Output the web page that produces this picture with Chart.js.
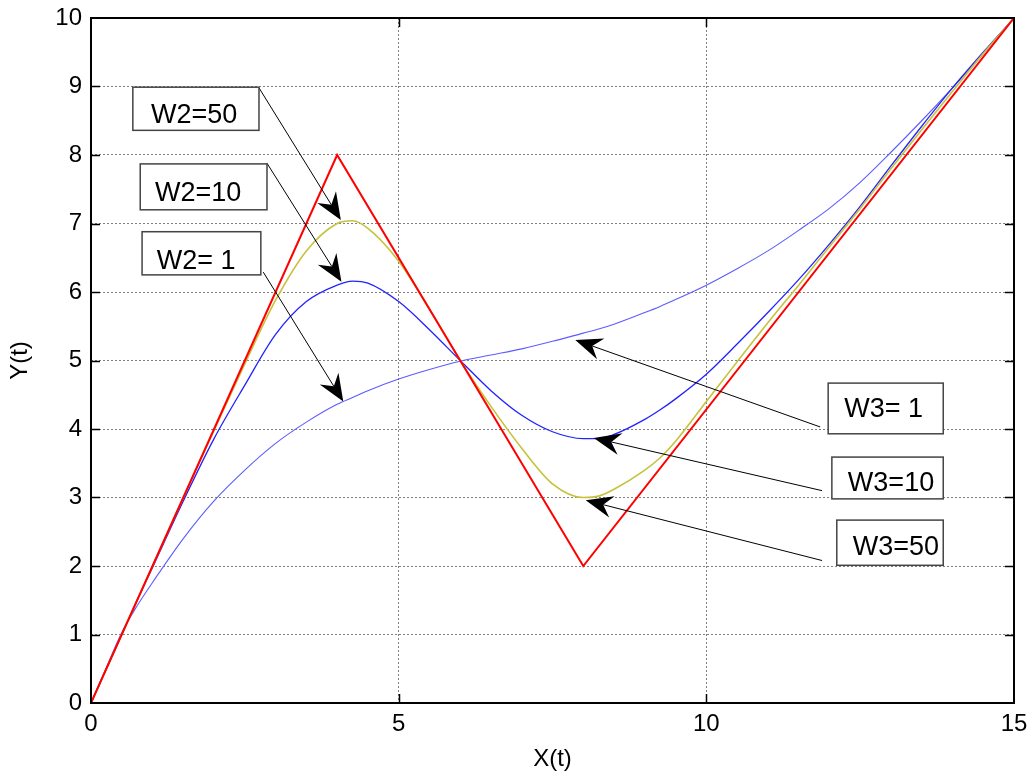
<!DOCTYPE html>
<html>
<head>
<meta charset="utf-8">
<script src="https://cdn.jsdelivr.net/npm/chart.js@4.4.0/dist/chart.umd.min.js"></script>
<style>
  html, body { margin: 0; padding: 0; background: #fff; }
</style>
</head>
<body>
<canvas id="chart" width="1035" height="778"></canvas>
<script>
// sample points along X(t)
const xs = [0, 0.25, 0.5, 0.75, 1, 1.5, 2, 2.5, 3, 3.5, 4, 4.25, 4.5, 5, 5.5, 6, 6.5, 7, 7.5, 8, 8.25, 8.5, 9, 9.25, 9.5, 10, 10.5, 11, 11.5, 12, 12.5, 13, 13.5, 14, 14.5, 15];

// W = 1 (light blue)
const yW1 = [0, 0.52, 1.03, 1.42, 1.76, 2.4, 2.95, 3.4, 3.79, 4.1, 4.36, 4.46, 4.56, 4.73, 4.87, 4.99, 5.08, 5.17, 5.28, 5.4, 5.46, 5.53, 5.7, 5.79, 5.89, 6.1, 6.34, 6.6, 6.9, 7.22, 7.6, 8.04, 8.5, 8.98, 9.48, 10];
// W = 10 (blue)
const yW10 = [0, 0.5, 1.0, 1.5, 1.98, 2.95, 3.86, 4.64, 5.38, 5.86, 6.1, 6.16, 6.13, 5.86, 5.45, 5.0, 4.56, 4.2, 3.96, 3.86, 3.86, 3.92, 4.14, 4.28, 4.44, 4.8, 5.24, 5.7, 6.18, 6.7, 7.25, 7.84, 8.42, 8.98, 9.5, 10];
// W = 50 (yellow)
const yW50 = [0, 0.5, 1.0, 1.5, 2.0, 3.0, 3.98, 4.95, 5.88, 6.6, 7.0, 7.04, 6.93, 6.45, 5.75, 5.0, 4.33, 3.72, 3.2, 3.0, 3.02, 3.12, 3.4, 3.58, 3.82, 4.4, 4.98, 5.55, 6.1, 6.66, 7.22, 7.8, 8.37, 8.93, 9.48, 10];

// reference path (red)
const refX = [0, 4, 8, 15];
const refY = [0, 8, 2, 10];

const xTicks = [0, 5, 10, 15];
const yTicks = [0, 1, 2, 3, 4, 5, 6, 7, 8, 9, 10];

// text boxes with arrows, in data units
const notes = [
  { text: 'W2=50', box: [0.68, 8.99, 2.73, 8.36], at: [0.975, 8.47], tail: [2.73, 8.98], tip: [4.06, 7.05] },
  { text: 'W2=10', box: [0.80, 7.87, 2.86, 7.20], at: [1.04, 7.33], tail: [2.86, 7.88], tip: [4.07, 6.15] },
  { text: 'W2= 1', box: [0.83, 6.88, 2.76, 6.25], at: [1.07, 6.34], tail: [2.80, 6.29], tip: [4.10, 4.40] },
  { text: 'W3= 1', box: [11.98, 4.67, 13.85, 3.93], at: [12.24, 4.18], tail: [11.85, 4.03], tip: [7.87, 5.30] },
  { text: 'W3=10', box: [12.04, 3.59, 13.85, 2.98], at: [12.30, 3.09], tail: [11.88, 3.10], tip: [8.17, 3.87] },
  { text: 'W3=50', box: [12.12, 2.67, 13.85, 2.01], at: [12.38, 2.16], tail: [11.88, 2.08], tip: [8.04, 2.96] },
];

const FONT = '"Liberation Sans", Arial, sans-serif';
Chart.defaults.font.family = FONT;
Chart.defaults.color = '#000';

function pts(x, y) {
  return x.map((v, i) => ({ x: v, y: y[i] }));
}

function drawArrow(ctx, tx, ty, fx, fy) {
  const dx = tx - fx, dy = ty - fy;
  const len = Math.hypot(dx, dy);
  const ux = dx / len, uy = dy / len;
  const nx = -uy, ny = ux;
  const L = 27, W = 11, notch = 18;
  ctx.beginPath();
  ctx.moveTo(fx, fy);
  ctx.lineTo(tx - ux * notch, ty - uy * notch);
  ctx.stroke();
  ctx.beginPath();
  ctx.moveTo(tx, ty);
  ctx.lineTo(tx - ux * L + nx * W, ty - uy * L + ny * W);
  ctx.lineTo(tx - ux * notch, ty - uy * notch);
  ctx.lineTo(tx - ux * L - nx * W, ty - uy * L - ny * W);
  ctx.closePath();
  ctx.fill();
}

const framePlugin = {
  id: 'frame',
  afterDraw(chart) {
    const { ctx, chartArea: a, scales: { x, y } } = chart;
    ctx.save();
    // inward ticks
    ctx.strokeStyle = '#000';
    ctx.lineWidth = 1.5;
    ctx.beginPath();
    yTicks.slice(1, -1).forEach(v => {
      const py = Math.round(y.getPixelForValue(v)) + 0.5;
      ctx.moveTo(a.left, py); ctx.lineTo(a.left + 9, py);
      ctx.moveTo(a.right, py); ctx.lineTo(a.right - 9, py);
    });
    xTicks.slice(1, -1).forEach(v => {
      const px = Math.round(x.getPixelForValue(v)) + 0.5;
      ctx.moveTo(px, a.bottom); ctx.lineTo(px, a.bottom - 9);
      ctx.moveTo(px, a.top); ctx.lineTo(px, a.top + 9);
    });
    ctx.stroke();
    // box
    ctx.lineWidth = 2;
    ctx.strokeRect(a.left, a.top, a.right - a.left, a.bottom - a.top);

    // annotations
    ctx.lineWidth = 1;
    ctx.fillStyle = '#000';
    notes.forEach(n => {
      drawArrow(ctx,
        x.getPixelForValue(n.tip[0]), y.getPixelForValue(n.tip[1]),
        x.getPixelForValue(n.tail[0]), y.getPixelForValue(n.tail[1]));
    });
    ctx.font = '27px ' + FONT;
    ctx.textBaseline = 'alphabetic';
    ctx.textAlign = 'left';
    notes.forEach(n => {
      const x0 = x.getPixelForValue(n.box[0]), y0 = y.getPixelForValue(n.box[1]);
      const x1 = x.getPixelForValue(n.box[2]), y1 = y.getPixelForValue(n.box[3]);
      ctx.fillStyle = '#fff';
      ctx.fillRect(x0, y0, x1 - x0, y1 - y0);
      ctx.strokeStyle = '#444';
      ctx.lineWidth = 1.5;
      ctx.strokeRect(x0, y0, x1 - x0, y1 - y0);
      ctx.fillStyle = '#000';
      ctx.fillText(n.text, x.getPixelForValue(n.at[0]), y.getPixelForValue(n.at[1]));
    });
    ctx.restore();
  }
};

const gridColor = edge => ctx => (ctx.tick && (ctx.tick.value === 0 || ctx.tick.value === edge)) ? 'rgba(0,0,0,0)' : '#808080';

new Chart(document.getElementById('chart'), {
  type: 'scatter',
  data: {
    datasets: [
      { label: 'ref', data: pts(refX, refY), showLine: true, borderColor: '#ff0000', borderWidth: 2, pointRadius: 0, tension: 0 },
      { label: 'W=50', data: pts(xs, yW50), showLine: true, borderColor: '#c6c23c', borderWidth: 1.6, pointRadius: 0, cubicInterpolationMode: 'monotone' },
      { label: 'W=10', data: pts(xs, yW10), showLine: true, borderColor: '#2222ff', borderWidth: 1.3, pointRadius: 0, cubicInterpolationMode: 'monotone' },
      { label: 'W=1', data: pts(xs, yW1), showLine: true, borderColor: '#5c5cff', borderWidth: 1.1, pointRadius: 0, cubicInterpolationMode: 'monotone' },
    ]
  },
  options: {
    responsive: false,
    animation: false,
    layout: { padding: { left: 0, right: 21, top: 18, bottom: 0 } },
    plugins: { legend: { display: false }, tooltip: { enabled: false } },
    scales: {
      x: {
        type: 'linear', min: 0, max: 15,
        afterBuildTicks: s => { s.ticks = xTicks.map(v => ({ value: v })); },
        afterFit: s => { s.height = 75; s.paddingLeft = 0; s.paddingRight = 0; },
        ticks: { font: { size: 24 }, padding: 7, autoSkip: false, maxRotation: 0 },
        grid: { color: gridColor(15), lineWidth: 1, drawTicks: false },
        border: { display: false, dash: [2, 2] },
        title: { display: true, text: 'X(t)', font: { size: 24 }, padding: { top: 0, bottom: 4 } }
      },
      y: {
        type: 'linear', min: 0, max: 10,
        afterBuildTicks: s => { s.ticks = yTicks.map(v => ({ value: v })); },
        afterFit: s => { s.width = 91; s.paddingTop = 0; s.paddingBottom = 0; },
        ticks: { font: { size: 24 }, padding: 9, autoSkip: false },
        grid: { color: gridColor(10), lineWidth: 1, drawTicks: false },
        border: { display: false, dash: [2, 2] },
        title: { display: true, text: 'Y(t)', font: { size: 24 }, padding: { top: 6, bottom: 0 } }
      }
    }
  },
  plugins: [framePlugin]
});
</script>
</body>
</html>
